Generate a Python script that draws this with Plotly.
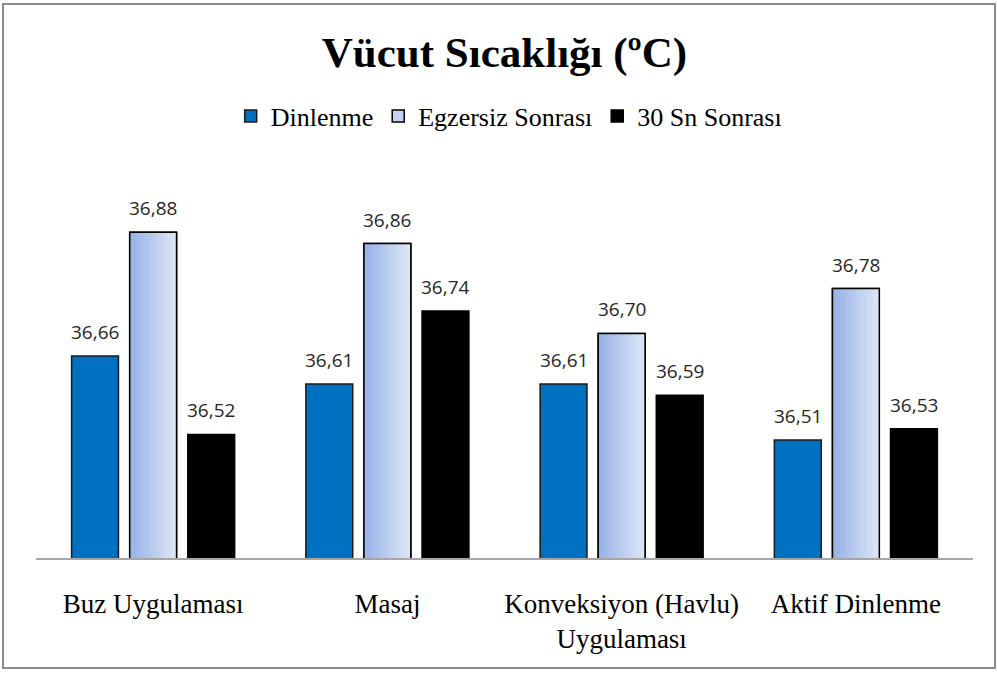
import plotly.graph_objects as go

categories = ["Buz Uygulaması", "Masaj", "Konveksiyon (Havlu)<br>Uygulaması", "Aktif Dinlenme"]
dinlenme = [36.66, 36.61, 36.61, 36.51]
egzersiz = [36.88, 36.86, 36.70, 36.78]
sonra30 = [36.52, 36.74, 36.59, 36.53]
series_names = ["Dinlenme", "Egzersiz Sonrası", "30 Sn Sonrası"]

SERIF = "Liberation Serif"

BAR_W = 0.2
STEP = 0.248
offsets = [-STEP, 0.0, STEP]

W, H = 997, 675
ML, MR, MT, MB = 36, 24, 165, 117
plot_w = W - ML - MR
plot_h = H - MT - MB

xpos = list(range(len(categories)))

fig = go.Figure()

# Dinlenme: solid blue
fig.add_trace(go.Bar(
    x=xpos, y=dinlenme, name=series_names[0],
    offset=offsets[0] - BAR_W / 2, width=BAR_W,
    marker=dict(color="#0070C0", line=dict(color="#1a1a1a", width=1.5)),
))

# Egzersiz Sonrası: base bar carries the legend entry
fig.add_trace(go.Bar(
    x=xpos, y=egzersiz, name=series_names[1],
    offset=offsets[1] - BAR_W / 2, width=BAR_W,
    marker=dict(color="#C3D2F0", line=dict(color="#000000", width=1.5)),
))

# horizontal light-blue gradient built from thin strips
N = 18
c0 = (0x95, 0xB1, 0xE6)
c1 = (0xDE, 0xE6, 0xF6)
sw = BAR_W / N
for j in range(N):
    t = j / (N - 1)
    col = "rgb(%d,%d,%d)" % tuple(round(a + (b - a) * t) for a, b in zip(c0, c1))
    fig.add_trace(go.Bar(
        x=xpos, y=egzersiz, showlegend=False, hoverinfo="skip",
        offset=offsets[1] - BAR_W / 2 + j * sw, width=sw * 1.08 if j < N - 1 else sw,
        marker=dict(color=col, line=dict(width=0)),
    ))

# outline on top of the gradient
fig.add_trace(go.Bar(
    x=xpos, y=egzersiz, showlegend=False, hoverinfo="skip",
    offset=offsets[1] - BAR_W / 2, width=BAR_W,
    marker=dict(color="rgba(0,0,0,0)", line=dict(color="#000000", width=1.5)),
))

# 30 Sn Sonrası: black
fig.add_trace(go.Bar(
    x=xpos, y=sonra30, name=series_names[2],
    offset=offsets[2] - BAR_W / 2, width=BAR_W,
    marker=dict(color="#000000", line=dict(color="#000000", width=1.5)),
))

# value labels above each bar
for vals, off in zip([dinlenme, egzersiz, sonra30], offsets):
    for i, v in enumerate(vals):
        fig.add_annotation(
            x=i + off, y=v, xref="x", yref="y",
            text=f"{v:.2f}".replace(".", ","),
            showarrow=False, yanchor="bottom", yshift=9,
            font=dict(family="Open Sans", size=19, color="#262626"),
        )

# outer frame
fig.add_shape(
    type="rect", xref="paper", yref="paper",
    x0=(3 - ML) / plot_w, x1=(995 - ML) / plot_w,
    y0=(H - MB - 668) / plot_h, y1=(H - MB - 4) / plot_h,
    line=dict(color="#8C8C8C", width=2), fillcolor="rgba(0,0,0,0)", layer="below",
)

fig.update_layout(
    width=W, height=H,
    margin=dict(l=ML, r=MR, t=MT, b=MB),
    paper_bgcolor="white", plot_bgcolor="white",
    barmode="overlay",
    font=dict(family=SERIF, color="#000000"),
    title=dict(
        text="<b>Vücut Sıcaklığı (ºC)</b>",
        xref="paper", x=0.5, xanchor="center", y=1 - 52 / H, yanchor="middle",
        font=dict(family=SERIF, size=43, color="#000000"),
    ),
    legend=dict(
        orientation="h", x=0.505, xanchor="center",
        y=(H - MB - 116) / plot_h, yanchor="middle",
        font=dict(family=SERIF, size=26, color="#000000"),
        itemwidth=30, traceorder="normal", bgcolor="rgba(0,0,0,0)",
    ),
    xaxis=dict(
        tickmode="array", tickvals=xpos, ticktext=categories,
        range=[-0.5, len(categories) - 0.5],
        showline=True, linecolor="#A6A6A6", linewidth=1.5,
        ticks="outside", ticklen=21, tickcolor="rgba(0,0,0,0)",
        showgrid=False, zeroline=False,
        tickfont=dict(family=SERIF, size=27, color="#000000"),
    ),
    yaxis=dict(
        range=[36.3, 37.0], visible=False, showgrid=False, zeroline=False,
    ),
    showlegend=True,
)

fig.write_html("out.html")
